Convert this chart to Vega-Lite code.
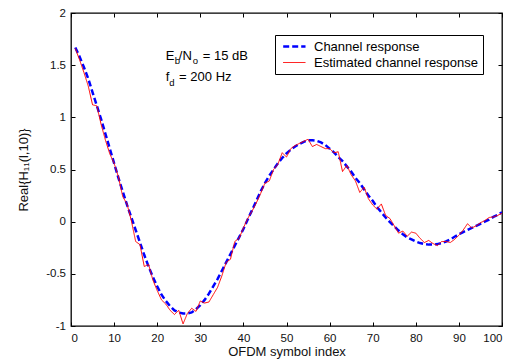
{
  "$schema": "https://vega.github.io/schema/vega-lite/v6.json",
  "width": 431,
  "height": 313,
  "autosize": "none",
  "padding": {"left": 71, "top": 13, "right": 21, "bottom": 34},
  "config": {
    "view": {"stroke": "#000", "strokeWidth": 1.3},
    "font": "Liberation Sans",
    "axis": {
      "domain": false, "grid": false, "ticks": true, "tickSize": -4, "tickColor": "#000", "tickWidth": 1,
      "labelFont": "Liberation Sans", "labelFontSize": 11.5, "labelColor": "#111",
      "titleFont": "Liberation Sans", "titleFontSize": 13, "titleFontWeight": "normal", "titleColor": "#111"
    },
    "legend": {
      "padding": 4, "strokeColor": "#000", "fillColor": "#fff", "symbolType": "M-0.55,0H3.17", "symbolSize": 144,
      "labelFont": "Liberation Sans", "labelFontSize": 13, "labelColor": "#000", "labelOffset": 20, "labelLimit": 400, "rowPadding": 2
    }
  },
  "data": {"values": [
    {"x":1,"Channel response":1.67,"Estimated channel response":1.66},
    {"x":2,"Channel response":1.58,"Estimated channel response":1.55},
    {"x":3,"Channel response":1.48,"Estimated channel response":1.43},
    {"x":4,"Channel response":1.37,"Estimated channel response":1.30},
    {"x":5,"Channel response":1.24,"Estimated channel response":1.12},
    {"x":6,"Channel response":1.11,"Estimated channel response":1.11},
    {"x":7,"Channel response":0.98,"Estimated channel response":0.93},
    {"x":8,"Channel response":0.84,"Estimated channel response":0.78},
    {"x":9,"Channel response":0.70,"Estimated channel response":0.65},
    {"x":10,"Channel response":0.56,"Estimated channel response":0.56},
    {"x":11,"Channel response":0.42,"Estimated channel response":0.43},
    {"x":12,"Channel response":0.29,"Estimated channel response":0.24},
    {"x":13,"Channel response":0.16,"Estimated channel response":0.17},
    {"x":14,"Channel response":0.04,"Estimated channel response":0.01},
    {"x":15,"Channel response":-0.08,"Estimated channel response":-0.19},
    {"x":16,"Channel response":-0.20,"Estimated channel response":-0.22},
    {"x":17,"Channel response":-0.32,"Estimated channel response":-0.43},
    {"x":18,"Channel response":-0.43,"Estimated channel response":-0.41},
    {"x":19,"Channel response":-0.53,"Estimated channel response":-0.56},
    {"x":20,"Channel response":-0.62,"Estimated channel response":-0.66},
    {"x":21,"Channel response":-0.70,"Estimated channel response":-0.75},
    {"x":22,"Channel response":-0.76,"Estimated channel response":-0.79},
    {"x":23,"Channel response":-0.81,"Estimated channel response":-0.85},
    {"x":24,"Channel response":-0.85,"Estimated channel response":-0.89},
    {"x":25,"Channel response":-0.87,"Estimated channel response":-0.85},
    {"x":26,"Channel response":-0.88,"Estimated channel response":-0.98},
    {"x":27,"Channel response":-0.88,"Estimated channel response":-0.88},
    {"x":28,"Channel response":-0.87,"Estimated channel response":-0.83},
    {"x":29,"Channel response":-0.84,"Estimated channel response":-0.86},
    {"x":30,"Channel response":-0.80,"Estimated channel response":-0.76},
    {"x":31,"Channel response":-0.75,"Estimated channel response":-0.78},
    {"x":32,"Channel response":-0.69,"Estimated channel response":-0.77},
    {"x":33,"Channel response":-0.62,"Estimated channel response":-0.70},
    {"x":34,"Channel response":-0.55,"Estimated channel response":-0.63},
    {"x":35,"Channel response":-0.47,"Estimated channel response":-0.52},
    {"x":36,"Channel response":-0.39,"Estimated channel response":-0.39},
    {"x":37,"Channel response":-0.31,"Estimated channel response":-0.36},
    {"x":38,"Channel response":-0.23,"Estimated channel response":-0.19},
    {"x":39,"Channel response":-0.15,"Estimated channel response":-0.16},
    {"x":40,"Channel response":-0.07,"Estimated channel response":-0.06},
    {"x":41,"Channel response":0.02,"Estimated channel response":0.03},
    {"x":42,"Channel response":0.11,"Estimated channel response":0.10},
    {"x":43,"Channel response":0.20,"Estimated channel response":0.18},
    {"x":44,"Channel response":0.29,"Estimated channel response":0.27},
    {"x":45,"Channel response":0.37,"Estimated channel response":0.37},
    {"x":46,"Channel response":0.44,"Estimated channel response":0.39},
    {"x":47,"Channel response":0.50,"Estimated channel response":0.50},
    {"x":48,"Channel response":0.56,"Estimated channel response":0.55},
    {"x":49,"Channel response":0.61,"Estimated channel response":0.66},
    {"x":50,"Channel response":0.655,"Estimated channel response":0.62},
    {"x":51,"Channel response":0.69,"Estimated channel response":0.70},
    {"x":52,"Channel response":0.72,"Estimated channel response":0.73},
    {"x":53,"Channel response":0.745,"Estimated channel response":0.75},
    {"x":54,"Channel response":0.765,"Estimated channel response":0.77},
    {"x":55,"Channel response":0.78,"Estimated channel response":0.79},
    {"x":56,"Channel response":0.78,"Estimated channel response":0.72},
    {"x":57,"Channel response":0.775,"Estimated channel response":0.74},
    {"x":58,"Channel response":0.76,"Estimated channel response":0.72},
    {"x":59,"Channel response":0.735,"Estimated channel response":0.70},
    {"x":60,"Channel response":0.70,"Estimated channel response":0.70},
    {"x":61,"Channel response":0.665,"Estimated channel response":0.66},
    {"x":62,"Channel response":0.62,"Estimated channel response":0.67},
    {"x":63,"Channel response":0.58,"Estimated channel response":0.48},
    {"x":64,"Channel response":0.53,"Estimated channel response":0.54},
    {"x":65,"Channel response":0.48,"Estimated channel response":0.45},
    {"x":66,"Channel response":0.42,"Estimated channel response":0.39},
    {"x":67,"Channel response":0.37,"Estimated channel response":0.28},
    {"x":68,"Channel response":0.31,"Estimated channel response":0.33},
    {"x":69,"Channel response":0.25,"Estimated channel response":0.22},
    {"x":70,"Channel response":0.20,"Estimated channel response":0.16},
    {"x":71,"Channel response":0.14,"Estimated channel response":0.12},
    {"x":72,"Channel response":0.09,"Estimated channel response":0.17},
    {"x":73,"Channel response":0.04,"Estimated channel response":0.06},
    {"x":74,"Channel response":-0.005,"Estimated channel response":0.03},
    {"x":75,"Channel response":-0.045,"Estimated channel response":-0.04},
    {"x":76,"Channel response":-0.085,"Estimated channel response":-0.11},
    {"x":77,"Channel response":-0.12,"Estimated channel response":-0.09},
    {"x":78,"Channel response":-0.15,"Estimated channel response":-0.14},
    {"x":79,"Channel response":-0.17,"Estimated channel response":-0.10},
    {"x":80,"Channel response":-0.19,"Estimated channel response":-0.11},
    {"x":81,"Channel response":-0.205,"Estimated channel response":-0.16},
    {"x":82,"Channel response":-0.215,"Estimated channel response":-0.20},
    {"x":83,"Channel response":-0.22,"Estimated channel response":-0.18},
    {"x":84,"Channel response":-0.22,"Estimated channel response":-0.21},
    {"x":85,"Channel response":-0.215,"Estimated channel response":-0.23},
    {"x":86,"Channel response":-0.205,"Estimated channel response":-0.19},
    {"x":87,"Channel response":-0.19,"Estimated channel response":-0.19},
    {"x":88,"Channel response":-0.17,"Estimated channel response":-0.20},
    {"x":89,"Channel response":-0.145,"Estimated channel response":-0.17},
    {"x":90,"Channel response":-0.12,"Estimated channel response":-0.13},
    {"x":91,"Channel response":-0.10,"Estimated channel response":-0.08},
    {"x":92,"Channel response":-0.08,"Estimated channel response":-0.02},
    {"x":93,"Channel response":-0.06,"Estimated channel response":-0.06},
    {"x":94,"Channel response":-0.04,"Estimated channel response":-0.04},
    {"x":95,"Channel response":-0.02,"Estimated channel response":-0.01},
    {"x":96,"Channel response":0.0,"Estimated channel response":0.01},
    {"x":97,"Channel response":0.02,"Estimated channel response":0.04},
    {"x":98,"Channel response":0.045,"Estimated channel response":0.045},
    {"x":99,"Channel response":0.065,"Estimated channel response":0.06},
    {"x":100,"Channel response":0.09,"Estimated channel response":0.08}
  ]},
  "transform": [{"fold": ["Channel response", "Estimated channel response"], "as": ["series", "value"]}],
  "layer": [
    {
      "transform": [{"filter": "datum.series == 'Channel response'"}],
      "mark": {"type": "line", "clip": true},
      "encoding": {
        "x": {"field": "x", "type": "quantitative", "scale": {"domain": [0, 100], "nice": false, "zero": false},
              "axis": {"values": [0,10,20,30,40,50,60,70,80,90,100], "title": "OFDM symbol index", "labelPadding": 10, "titlePadding": 2}},
        "y": {"field": "value", "type": "quantitative", "scale": {"domain": [-1, 2], "nice": false, "zero": false},
              "axis": {"values": [-1,-0.5,0,0.5,1,1.5,2], "labelExpr": "datum.value + ''", "title": "Real{H₁₁(l,10)}", "labelPadding": 9.5, "titlePadding": 15}},
        "color": {"field": "series", "type": "nominal", "scale": {"domain": ["Channel response", "Estimated channel response"], "range": ["#0000ff", "#ff0000"]},
                  "legend": {"title": null, "orient": "none", "legendX": 204, "legendY": 22}},
        "strokeDash": {"field": "series", "type": "nominal", "scale": {"domain": ["Channel response", "Estimated channel response"], "range": [[6, 3], [1, 0]]},
                  "legend": {"title": null, "orient": "none", "legendX": 204, "legendY": 22}},
        "strokeWidth": {"field": "series", "type": "nominal", "scale": {"domain": ["Channel response", "Estimated channel response"], "range": [2.5, 1]},
                  "legend": {"title": null, "orient": "none", "legendX": 204, "legendY": 22}}
      }
    },
    {
      "transform": [{"filter": "datum.series == 'Estimated channel response'"}],
      "mark": {"type": "line", "clip": true},
      "encoding": {
        "x": {"field": "x", "type": "quantitative", "axis": null},
        "y": {"field": "value", "type": "quantitative", "axis": null},
        "color": {"field": "series", "type": "nominal"},
        "strokeDash": {"field": "series", "type": "nominal"},
        "strokeWidth": {"field": "series", "type": "nominal"}
      }
    },
    {
      "transform": [{"filter": "datum.series == 'Channel response'"}],
      "mark": {"type": "line", "strokeOpacity": 0},
      "encoding": {
        "x": {"field": "x", "type": "quantitative", "axis": {"orient": "top", "labels": false, "title": null, "values": [0,10,20,30,40,50,60,70,80,90,100]}},
        "y": {"field": "value", "type": "quantitative", "axis": {"orient": "right", "labels": false, "title": null, "values": [-1,-0.5,0,0.5,1,1.5,2]}}
      }
    },
    {
      "data": {"values": [{"t": "E"}]},
      "mark": {"type": "text", "align": "left", "baseline": "alphabetic", "fontSize": 13, "font": "Liberation Sans", "color": "#000"},
      "encoding": {"x": {"datum": 22, "type": "quantitative", "axis": null}, "y": {"datum": 1.553, "type": "quantitative", "axis": null}, "text": {"field": "t"}}
    },
    {
      "data": {"values": [{"t": "b"}]},
      "mark": {"type": "text", "align": "left", "baseline": "alphabetic", "fontSize": 9.5, "dx": 9, "dy": 4, "font": "Liberation Sans", "color": "#000"},
      "encoding": {"x": {"datum": 22, "type": "quantitative", "axis": null}, "y": {"datum": 1.553, "type": "quantitative", "axis": null}, "text": {"field": "t"}}
    },
    {
      "data": {"values": [{"t": "/N"}]},
      "mark": {"type": "text", "align": "left", "baseline": "alphabetic", "fontSize": 13, "dx": 13, "font": "Liberation Sans", "color": "#000"},
      "encoding": {"x": {"datum": 22, "type": "quantitative", "axis": null}, "y": {"datum": 1.553, "type": "quantitative", "axis": null}, "text": {"field": "t"}}
    },
    {
      "data": {"values": [{"t": "o"}]},
      "mark": {"type": "text", "align": "left", "baseline": "alphabetic", "fontSize": 9.5, "dx": 27, "dy": 4, "font": "Liberation Sans", "color": "#000"},
      "encoding": {"x": {"datum": 22, "type": "quantitative", "axis": null}, "y": {"datum": 1.553, "type": "quantitative", "axis": null}, "text": {"field": "t"}}
    },
    {
      "data": {"values": [{"t": "= 15 dB"}]},
      "mark": {"type": "text", "align": "left", "baseline": "alphabetic", "fontSize": 13, "dx": 37, "font": "Liberation Sans", "color": "#000"},
      "encoding": {"x": {"datum": 22, "type": "quantitative", "axis": null}, "y": {"datum": 1.553, "type": "quantitative", "axis": null}, "text": {"field": "t"}}
    },
    {
      "data": {"values": [{"t": "f"}]},
      "mark": {"type": "text", "align": "left", "baseline": "alphabetic", "fontSize": 13, "font": "Liberation Sans", "color": "#000"},
      "encoding": {"x": {"datum": 22, "type": "quantitative", "axis": null}, "y": {"datum": 1.345, "type": "quantitative", "axis": null}, "text": {"field": "t"}}
    },
    {
      "data": {"values": [{"t": "d"}]},
      "mark": {"type": "text", "align": "left", "baseline": "alphabetic", "fontSize": 9.5, "dx": 3.5, "dy": 5, "font": "Liberation Sans", "color": "#000"},
      "encoding": {"x": {"datum": 22, "type": "quantitative", "axis": null}, "y": {"datum": 1.345, "type": "quantitative", "axis": null}, "text": {"field": "t"}}
    },
    {
      "data": {"values": [{"t": "= 200 Hz"}]},
      "mark": {"type": "text", "align": "left", "baseline": "alphabetic", "fontSize": 13, "dx": 13.3, "font": "Liberation Sans", "color": "#000"},
      "encoding": {"x": {"datum": 22, "type": "quantitative", "axis": null}, "y": {"datum": 1.345, "type": "quantitative", "axis": null}, "text": {"field": "t"}}
    }
  ],
  "resolve": {"axis": {"x": "independent", "y": "independent"}}
}
